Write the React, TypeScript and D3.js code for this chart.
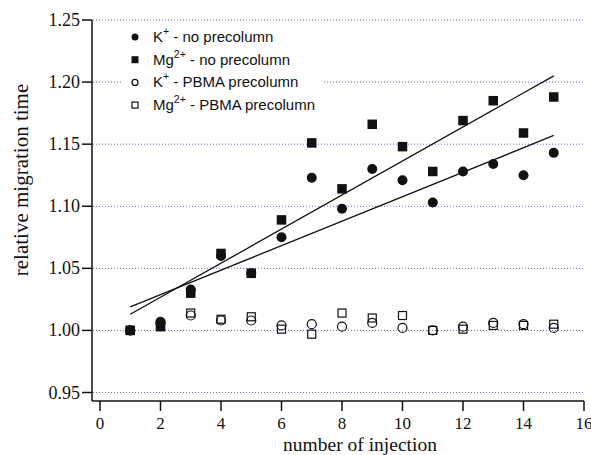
import React from 'react';
import * as d3 from 'd3';

// number of injection
const injections = [1, 2, 3, 4, 5, 6, 7, 8, 9, 10, 11, 12, 13, 14, 15];
// relative migration time
const kNoPre = [1.0, 1.007, 1.033, 1.06, 1.046, 1.075, 1.123, 1.098, 1.13, 1.121, 1.103, 1.128, 1.134, 1.125, 1.143];
const mgNoPre = [1.0, 1.003, 1.03, 1.062, 1.046, 1.089, 1.151, 1.114, 1.166, 1.148, 1.128, 1.169, 1.185, 1.159, 1.188];
const kPbma = [1.0, 1.006, 1.012, 1.008, 1.008, 1.004, 1.005, 1.003, 1.006, 1.002, 1.0, 1.003, 1.006, 1.005, 1.002];
const mgPbma = [1.0, 1.004, 1.014, 1.009, 1.011, 1.001, 0.997, 1.014, 1.01, 1.012, 1.0, 1.001, 1.004, 1.004, 1.005];

// linear fits (end points)
const fitX = [1, 15];
const kFit = [1.019, 1.157];
const mgFit = [1.013, 1.205];

const xTicks = [0, 2, 4, 6, 8, 10, 12, 14, 16];
const yTicks = [0.95, 1.0, 1.05, 1.1, 1.15, 1.2, 1.25];

const W = 591;
const H = 455;
const axisX = 92;
const axisY = 401;

export default function App() {
  const x = d3.scaleLinear().domain([0, 16]).range([100, 584]);
  const y = d3.scaleLinear().domain([0.95, 1.25]).range([392.5, 20]);

  const line = d3
    .line<number>()
    .x((_, i) => x(fitX[i]))
    .y((d) => y(d));

  const serif = '"Liberation Serif", "Times New Roman", serif';
  const sans = '"Liberation Sans", Arial, sans-serif';

  const circle = (cx: number, cy: number, filled: boolean, r: number, key?: string) => (
    <circle key={key} cx={cx} cy={cy} r={r} fill={filled ? '#111' : 'none'} stroke="#111" strokeWidth={filled ? 0 : 1.2} />
  );
  const square = (cx: number, cy: number, filled: boolean, s: number, key?: string) => (
    <rect key={key} x={cx - s / 2} y={cy - s / 2} width={s} height={s} fill={filled ? '#111' : 'none'} stroke="#111" strokeWidth={filled ? 0 : 1.2} />
  );

  const legend = [
    { label: 'K', sup: '+', rest: ' - no precolumn', mark: (cx: number, cy: number) => circle(cx, cy, true, 3.5) },
    { label: 'Mg', sup: '2+', rest: ' - no precolumn', mark: (cx: number, cy: number) => square(cx, cy, true, 7) },
    { label: 'K', sup: '+', rest: ' - PBMA precolumn', mark: (cx: number, cy: number) => circle(cx, cy, false, 3) },
    { label: 'Mg', sup: '2+', rest: ' - PBMA precolumn', mark: (cx: number, cy: number) => square(cx, cy, false, 6) },
  ];

  return (
    <svg width={W} height={H} style={{ position: 'absolute', left: 0, top: 0 }}>
      <rect width={W} height={H} fill="#fff" />
      {/* grid */}
      {yTicks.map((t) => (
        <line key={'g' + t} x1={axisX + 1} x2={584} y1={y(t)} y2={y(t)} stroke="#6474c8" strokeWidth={1} strokeDasharray="1 2" />
      ))}
      {/* legend background */}
      <rect x={123} y={25} width={199} height={90} fill="#fff" />
      {legend.map((l, i) => {
        const cy = 37 + i * 22.7;
        return (
          <g key={'l' + i}>
            {l.mark(135, cy)}
            <text x={153} y={cy + 5} fontFamily={sans} fontSize={15} fill="#111">
              {l.label}
              <tspan fontSize={10.5} dy={-7}>{l.sup}</tspan>
              <tspan dy={7}>{l.rest}</tspan>
            </text>
          </g>
        );
      })}
      {/* axes */}
      <line x1={axisX} x2={axisX} y1={y(1.25)} y2={axisY} stroke="#111" strokeWidth={1.5} />
      <line x1={axisX} x2={584} y1={axisY} y2={axisY} stroke="#111" strokeWidth={1.5} />
      {yTicks.map((t) => (
        <g key={'y' + t}>
          <line x1={axisX - 10} x2={axisX} y1={y(t)} y2={y(t)} stroke="#111" strokeWidth={1.5} />
          <text x={axisX - 12} y={y(t) + 6} textAnchor="end" fontFamily={serif} fontSize={18} fill="#111">
            {d3.format('.2f')(t)}
          </text>
        </g>
      ))}
      {xTicks.map((t) => (
        <g key={'x' + t}>
          <line x1={x(t)} x2={x(t)} y1={axisY} y2={axisY + 10} stroke="#111" strokeWidth={1.5} />
          <text x={x(t)} y={axisY + 28} textAnchor="middle" fontFamily={serif} fontSize={17} fill="#111">
            {t}
          </text>
        </g>
      ))}
      <text x={360} y={451} textAnchor="middle" fontFamily={serif} fontSize={19.5} fill="#111">
        number of injection
      </text>
      <text transform="translate(28,180) rotate(-90)" textAnchor="middle" fontFamily={serif} fontSize={21} fill="#111">
        relative migration time
      </text>
      {/* open markers */}
      {injections.map((n, i) => square(x(n), y(mgPbma[i]), false, 8, 'mp' + n))}
      {injections.map((n, i) => circle(x(n), y(kPbma[i]), false, 4.5, 'kp' + n))}
      {/* filled markers */}
      {injections.map((n, i) => square(x(n), y(mgNoPre[i]), true, 9.5, 'm' + n))}
      {injections.map((n, i) => circle(x(n), y(kNoPre[i]), true, 5, 'k' + n))}
      {/* fits */}
      <path d={line(kFit) ?? ''} fill="none" stroke="#111" strokeWidth={1.3} />
      <path d={line(mgFit) ?? ''} fill="none" stroke="#111" strokeWidth={1.3} />
    </svg>
  );
}
